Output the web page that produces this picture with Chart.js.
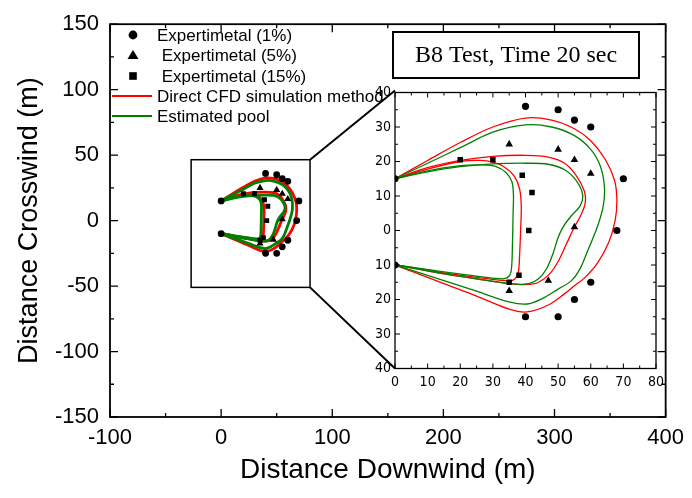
<!DOCTYPE html>
<html><head><meta charset="utf-8">
<script src="https://cdn.jsdelivr.net/npm/chart.js@4.4.1/dist/chart.umd.min.js"></script>
<style>
html,body{margin:0;padding:0;background:#fff;}
#wrap{position:relative;width:692px;height:498px;}
#wrap canvas{position:absolute;left:0;top:0;}
</style></head><body>
<div id="wrap"><canvas id="main" width="692" height="498"></canvas><canvas id="inset" width="692" height="498"></canvas></div>
<script>
// ---------- DATA (metres) ----------
const exp1X = [0, 0, 40, 50, 55, 60, 70, 68, 60, 55, 50, 40];
const exp1Y = [15, -10, 36, 35, 32, 30, 15, 0, -15, -20, -25, -25];
const exp5X = [35, 50, 55, 60, 55, 47, 35];
const exp5Y = [25, 23.5, 20.5, 16.5, 1, -14.5, -17.5];
const exp15X = [20, 30, 39, 42, 41, 38, 35];
const exp15Y = [20.5, 20.5, 16, 11, 0, -13, -15];

const cfd1X = [0, 10, 20, 30, 40, 48, 55, 60, 64.5, 67.3, 68, 67.5, 65.5, 62, 58, 55, 52, 47, 40.5, 35, 25, 15, 5, 0];
const cfd1Y = [15, 20.3, 25.5, 30, 32.6, 32, 29.5, 26, 20.5, 14.5, 9, 3, -3.5, -9.5, -13.8, -16, -18.3, -21.6, -23.6, -22.8, -19, -15.4, -11.8, -10];
const pool1X = [0, 10, 20, 30, 40, 48, 55, 60, 63, 64.2, 63.8, 62, 59, 56.5, 54, 50, 45, 40.5, 35, 25, 15, 5, 0];
const pool1Y = [15, 19.5, 24, 28.5, 30.6, 30, 27.5, 23.5, 18.5, 12.5, 7, 1, -6, -11.5, -14.6, -17, -19.8, -21.3, -20.7, -17.6, -14.5, -11.5, -10];

const cfd5X = [0, 10, 20, 30, 40, 47, 52, 55.5, 58, 58.3, 57, 55, 52.5, 50, 47.5, 44, 40, 35, 25, 15, 5, 0];
const cfd5Y = [15, 18.2, 20.3, 21.5, 21.8, 21.3, 19.5, 16, 11.5, 8, 4.5, 1, -4, -9, -12.5, -15, -15.7, -15.4, -14, -12.6, -10.8, -10];
const pool5X = [0, 10, 20, 30, 40, 47, 52, 55.5, 57.5, 56.8, 54, 51.5, 50, 48.5, 46.5, 44, 41, 36, 25, 15, 5, 0];
const pool5Y = [15, 17, 18.5, 19.3, 19.5, 19.2, 17.6, 14.5, 10.5, 7.2, 4.2, 1, -2, -6.5, -11, -14, -15.4, -15.5, -14, -12.5, -10.8, -10];

const cfd15X = [0, 10, 20, 26, 30, 33.5, 36.5, 38.2, 38.7, 38.5, 38.2, 37.8, 36.8, 35, 25, 15, 5, 0];
const cfd15Y = [15, 17.8, 20, 20.3, 19.8, 18.4, 15.8, 12, 7, 0, -7, -12, -14, -14.6, -13.6, -12.3, -10.7, -10];
const pool15X = [0, 10, 20, 27, 31, 34, 35.8, 36.3, 36.2, 36, 35.7, 35, 33, 25, 15, 5, 0];
const pool15Y = [15, 17.3, 18.8, 19, 18.5, 16.8, 14.2, 10.5, 5, -4, -11, -13.2, -14, -13.2, -12, -10.6, -10];

// ---------- AXES / TICKS ----------
const mainXLabels = [-100, 0, 100, 200, 300, 400];
const mainXMinor = [-50, 50, 150, 250, 350];
const mainYLabels = [-150, -100, -50, 0, 50, 100, 150];
const mainYMinor = [-125, -75, -25, 25, 75, 125];
const insetXLabels = [0, 10, 20, 30, 40, 50, 60, 70, 80];
const insetXMinor = [5, 15, 25, 35, 45, 55, 65, 75];
const insetYLabels = [-40, -30, -20, -10, 0, 10, 20, 30, 40];
const insetYMinor = [-35, -25, -15, -5, 5, 15, 25, 35];
const zoomBoxX = [-27, 80];
const zoomBoxY = [-51, 46.5];

const titleText = 'B8 Test, Time 20 sec';
const xTitle = 'Distance Downwind (m)';
const yTitle = 'Distance Crosswind (m)';
const legendLabels = ['Expertimetal (1%)', ' Expertimetal (5%)', ' Expertimetal (15%)', 'Direct CFD simulation method', 'Estimated pool'];

const RED = '#ff0000', GREEN = '#008000';
const SANS = "'Liberation Sans', Arial, Helvetica, sans-serif";
const NARROW = "'Liberation Sans Narrow', 'DejaVu Sans Condensed', 'Liberation Sans', sans-serif";

function pts(xs, ys) { return xs.map((x, i) => ({x: x, y: ys[i]})); }

function makeDatasets(inset) {
  const lw = inset ? 1.3 : 2.8;
  const curve = (lbl, xs, ys, col) => ({label: lbl, data: pts(xs, ys), showLine: true, borderColor: col,
    backgroundColor: col, borderWidth: lw, pointRadius: 0, tension: 0.35, fill: false});
  return [
    {label: legendLabels[0], data: pts(exp1X, exp1Y), pointStyle: 'circle', pointRadius: inset ? 3.6 : 3.4,
      backgroundColor: '#000', borderColor: '#000', pointBorderWidth: 0},
    {label: legendLabels[1], data: pts(exp5X, exp5Y), pointStyle: 'triangle', pointRadius: inset ? 4.4 : 4.1,
      backgroundColor: '#000', borderColor: '#000', pointBorderWidth: 0},
    {label: legendLabels[2], data: pts(exp15X, exp15Y), pointStyle: 'rect', pointRadius: inset ? 3.9 : 3.5,
      backgroundColor: '#000', borderColor: '#000', pointBorderWidth: 0},
    curve(legendLabels[4], pool1X, pool1Y, GREEN),
    curve(legendLabels[4], pool5X, pool5Y, GREEN),
    curve(legendLabels[4], pool15X, pool15Y, GREEN),
    curve(legendLabels[3], cfd1X, cfd1Y, RED),
    curve(legendLabels[3], cfd5X, cfd5Y, RED),
    curve(legendLabels[3], cfd15X, cfd15Y, RED)
  ];
}

function drawInnerTicks(ctx, a, sx, sy, xl, xm, yl, ym, L, l) {
  ctx.beginPath();
  const xt = (vals, len) => vals.forEach(v => {
    const p = sx.getPixelForValue(v);
    ctx.moveTo(p, a.bottom); ctx.lineTo(p, a.bottom - len);
    ctx.moveTo(p, a.top); ctx.lineTo(p, a.top + len);
  });
  const yt = (vals, len) => vals.forEach(v => {
    const p = sy.getPixelForValue(v);
    ctx.moveTo(a.left, p); ctx.lineTo(a.left + len, p);
    ctx.moveTo(a.right, p); ctx.lineTo(a.right - len, p);
  });
  xt(xl, L); xt(xm, l); yt(yl, L); yt(ym, l);
  ctx.stroke();
}

const mainDecor = {
  id: 'mainDecor',
  afterDraw(chart) {
    const {ctx, chartArea: a, scales: {x, y}} = chart;
    ctx.save();
    ctx.strokeStyle = '#000';
    ctx.lineWidth = 1.3;
    drawInnerTicks(ctx, a, x, y, mainXLabels, mainXMinor, mainYLabels, mainYMinor, 8, 4);
    ctx.lineWidth = 1.8;
    ctx.strokeRect(a.left, a.top, a.right - a.left, a.bottom - a.top);
    // zoom box
    const bx0 = x.getPixelForValue(zoomBoxX[0]), bx1 = x.getPixelForValue(zoomBoxX[1]);
    const by0 = y.getPixelForValue(zoomBoxY[1]), by1 = y.getPixelForValue(zoomBoxY[0]);
    ctx.lineWidth = 1.5;
    ctx.strokeRect(bx0, by0, bx1 - bx0, by1 - by0);
    // title box
    ctx.lineWidth = 2;
    ctx.strokeRect(393, 32, 246, 46);
    ctx.fillStyle = '#000';
    ctx.font = "24px 'Liberation Serif', 'Times New Roman', serif";
    ctx.textAlign = 'center'; ctx.textBaseline = 'middle';
    ctx.fillText(titleText, 516, 56);
    // legend
    const mx = a.left + 23, tx = a.left + 47;
    const rows = [35, 55, 76, 96, 116];
    ctx.beginPath(); ctx.arc(mx, rows[0], 4.4, 0, Math.PI * 2); ctx.fill();
    ctx.beginPath(); ctx.moveTo(mx, rows[1] - 5); ctx.lineTo(mx + 5.5, rows[1] + 4); ctx.lineTo(mx - 5.5, rows[1] + 4); ctx.closePath(); ctx.fill();
    ctx.fillRect(mx - 3.8, rows[2] - 3.8, 7.6, 7.6);
    ctx.lineWidth = 2;
    ctx.strokeStyle = RED; ctx.beginPath(); ctx.moveTo(a.left + 2, rows[3]); ctx.lineTo(a.left + 42, rows[3]); ctx.stroke();
    ctx.strokeStyle = GREEN; ctx.beginPath(); ctx.moveTo(a.left + 2, rows[4]); ctx.lineTo(a.left + 42, rows[4]); ctx.stroke();
    ctx.font = '17px ' + SANS;
    ctx.textAlign = 'left';
    legendLabels.forEach((t, i) => ctx.fillText(t, tx, rows[i] + 1));
    ctx.restore();
  }
};

const mainChart = new Chart(document.getElementById('main'), {
  type: 'scatter',
  data: {datasets: makeDatasets(false)},
  options: {
    responsive: false, animation: false, events: [], devicePixelRatio: 1,
    layout: {padding: {left: 0, top: 17, right: 23, bottom: 0}},
    plugins: {legend: {display: false}, tooltip: {enabled: false}},
    scales: {
      x: {
        type: 'linear', min: -100, max: 400,
        afterBuildTicks: s => { s.ticks = mainXLabels.map(v => ({value: v})); },
        afterFit: s => { s.height = 81; },
        grid: {display: false, drawTicks: false}, border: {display: false},
        ticks: {color: '#000', font: {family: SANS, size: 22}, padding: 8, maxRotation: 0, autoSkip: false,
          callback: v => String(v)},
        title: {display: true, text: xTitle, color: '#000', font: {family: SANS, size: 28}, padding: {top: 0, bottom: 11}}
      },
      y: {
        type: 'linear', min: -150, max: 150,
        afterBuildTicks: s => { s.ticks = mainYLabels.map(v => ({value: v})); },
        afterFit: s => { s.width = 110; },
        grid: {display: false, drawTicks: false}, border: {display: false},
        ticks: {color: '#000', font: {family: SANS, size: 22}, padding: 11, autoSkip: false,
          callback: v => String(v)},
        title: {display: true, text: yTitle, color: '#000', font: {family: SANS, size: 27}, padding: {top: 13, bottom: 0}}
      }
    }
  },
  plugins: [mainDecor]
});

const insetDecor = {
  id: 'insetDecor',
  beforeDraw(chart) {
    const {ctx, chartArea: a} = chart;
    ctx.save(); ctx.fillStyle = '#fff';
    ctx.fillRect(a.left, a.top, a.right - a.left, a.bottom - a.top);
    ctx.restore();
  },
  afterDraw(chart) {
    const {ctx, chartArea: a, scales: {x, y}} = chart;
    ctx.save();
    ctx.strokeStyle = '#000';
    ctx.lineWidth = 1;
    drawInnerTicks(ctx, a, x, y, insetXLabels, insetXMinor, insetYLabels, insetYMinor, 5, 3);
    ctx.lineWidth = 1.3;
    ctx.strokeRect(a.left, a.top, a.right - a.left, a.bottom - a.top);
    // connectors from zoom box to inset
    const mx = mainChart.scales.x, my = mainChart.scales.y;
    ctx.lineWidth = 2;
    ctx.beginPath();
    ctx.moveTo(mx.getPixelForValue(zoomBoxX[1]), my.getPixelForValue(zoomBoxY[1]));
    ctx.lineTo(x.getPixelForValue(insetXLabels[0]), y.getPixelForValue(insetYLabels[insetYLabels.length - 1]) - 2);
    ctx.moveTo(mx.getPixelForValue(zoomBoxX[1]), my.getPixelForValue(zoomBoxY[0]));
    ctx.lineTo(x.getPixelForValue(insetXLabels[0]), y.getPixelForValue(insetYLabels[0]));
    ctx.stroke();
    ctx.restore();
  }
};

new Chart(document.getElementById('inset'), {
  type: 'scatter',
  data: {datasets: makeDatasets(true)},
  options: {
    responsive: false, animation: false, events: [], devicePixelRatio: 1,
    layout: {padding: {left: 375, top: 92.5, right: 36, bottom: 107.5}},
    plugins: {legend: {display: false}, tooltip: {enabled: false}},
    scales: {
      x: {
        type: 'linear', min: 0, max: 80,
        afterBuildTicks: s => { s.ticks = insetXLabels.map(v => ({value: v})); },
        afterFit: s => { s.height = 22; },
        grid: {display: false, drawTicks: false}, border: {display: false},
        ticks: {color: '#000', font: {family: NARROW, size: 14}, padding: 5, maxRotation: 0, autoSkip: false,
          callback: v => String(v)}
      },
      y: {
        type: 'linear', min: -40, max: 40,
        afterBuildTicks: s => { s.ticks = insetYLabels.map(v => ({value: v})); },
        afterFit: s => { s.width = 20; },
        grid: {display: false, drawTicks: false}, border: {display: false},
        ticks: {color: '#000', font: {family: NARROW, size: 14}, padding: 4, autoSkip: false,
          callback: v => String(Math.abs(v))}
      }
    }
  },
  plugins: [insetDecor]
});
</script>
</body></html>
